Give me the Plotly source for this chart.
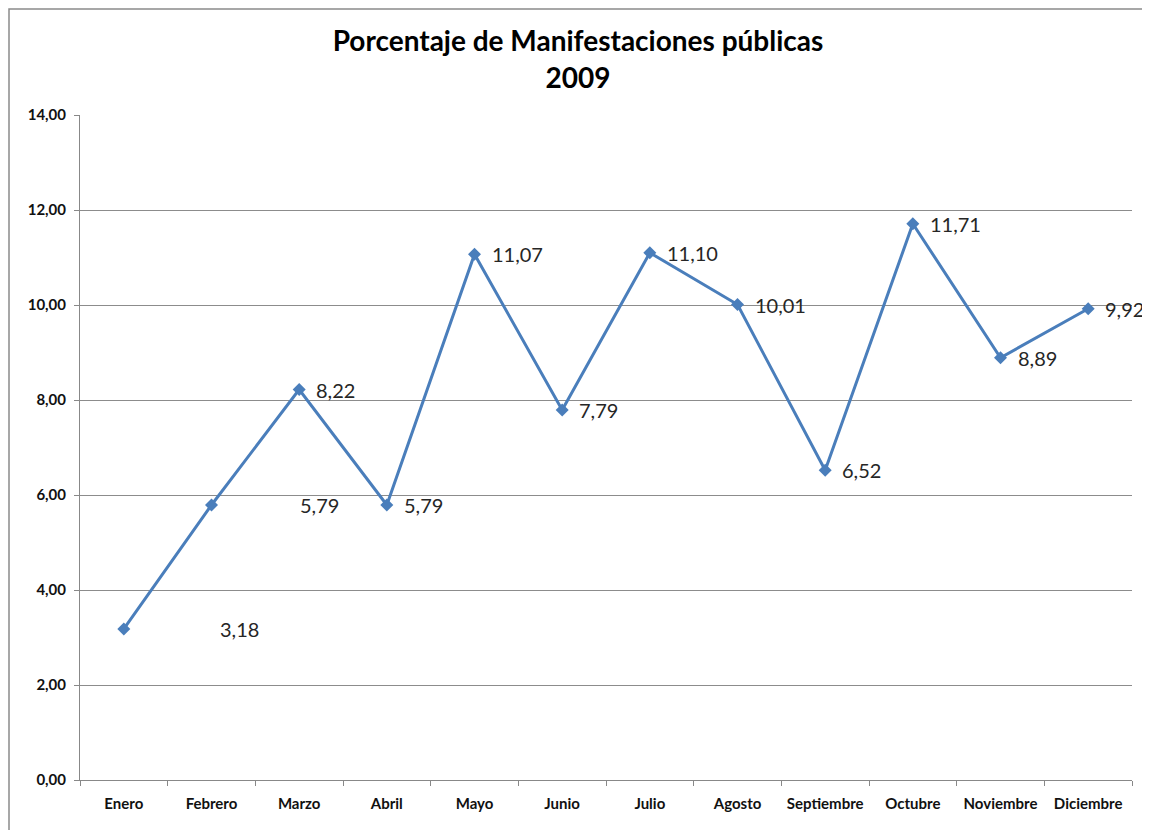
import plotly.graph_objects as go

months = ["Enero", "Febrero", "Marzo", "Abril", "Mayo", "Junio", "Julio",
          "Agosto", "Septiembre", "Octubre", "Noviembre", "Diciembre"]
values = [3.18, 5.79, 8.22, 5.79, 11.07, 7.79, 11.10, 10.01, 6.52, 11.71, 8.89, 9.92]
y_ticks = [0, 2, 4, 6, 8, 10, 12, 14]
title_lines = ["Porcentaje de Manifestaciones públicas", "2009"]

line_color = "#4A7EBB"
label_xshift = [94, 86] + [15] * 10

# page shows the figure offset by 8px (body margin); plot area in figure coords
L, R, T, B = 72, 26, 107, 58
PW, PH = 1150 - L - R, 830 - T - B

fig = go.Figure()
fig.add_trace(go.Scatter(
    x=months, y=values, mode="lines+markers",
    line=dict(color=line_color, width=3),
    marker=dict(symbol="diamond", size=10, color=line_color),
    hoverinfo="skip", cliponaxis=False,
))

for m, v, dx in zip(months, values, label_xshift):
    fig.add_annotation(
        x=m, y=v, xref="x", yref="y",
        text=f"{v:.2f}".replace(".", ","),
        showarrow=False, xanchor="left", yanchor="middle",
        xshift=dx, font=dict(family="Lato", size=20, color="#262626"),
    )

fig.update_layout(
    width=1150, height=830,
    margin=dict(l=L, r=R, t=T, b=B, autoexpand=False),
    paper_bgcolor="white", plot_bgcolor="white",
    separators=",.",
    showlegend=False,
    title=dict(
        text="<br>".join(title_lines),
        x=570 / 1150, xref="container", xanchor="center",
        y=0.948, yanchor="top",
        font=dict(family="Lato", size=28, color="#000000", weight="bold"),
    ),
    font=dict(family="Lato", color="#111111"),
)
fig.update_xaxes(
    type="category", tickson="boundaries",
    ticks="outside", ticklen=5, tickcolor="#888888",
    showline=True, linecolor="#888888", linewidth=1,
    showgrid=False, ticklabelstandoff=10,
    tickfont=dict(family="Lato", size=15, color="#111111", weight="bold"),
    range=[-0.5, 11.5],
)
fig.update_yaxes(
    range=[0, 14], tickvals=y_ticks, tickformat=".2f",
    ticks="outside", ticklen=5, tickcolor="#888888",
    showline=True, linecolor="#888888", linewidth=1,
    showgrid=True, gridcolor="#8c8c8c", gridwidth=1,
    zeroline=False, ticklabelstandoff=5,
    tickfont=dict(family="Lato", size=15, color="#111111", weight="bold"),
)
# outer chart frame
fig.add_shape(type="rect", xref="paper", yref="paper",
              x0=(1 - L) / PW, x1=(1141 - L) / PW,
              y0=-0.2, y1=(830 - B - 1) / PH,
              line=dict(color="#8a8a8a", width=1.5), layer="below")

fig.write_html("out.html")
